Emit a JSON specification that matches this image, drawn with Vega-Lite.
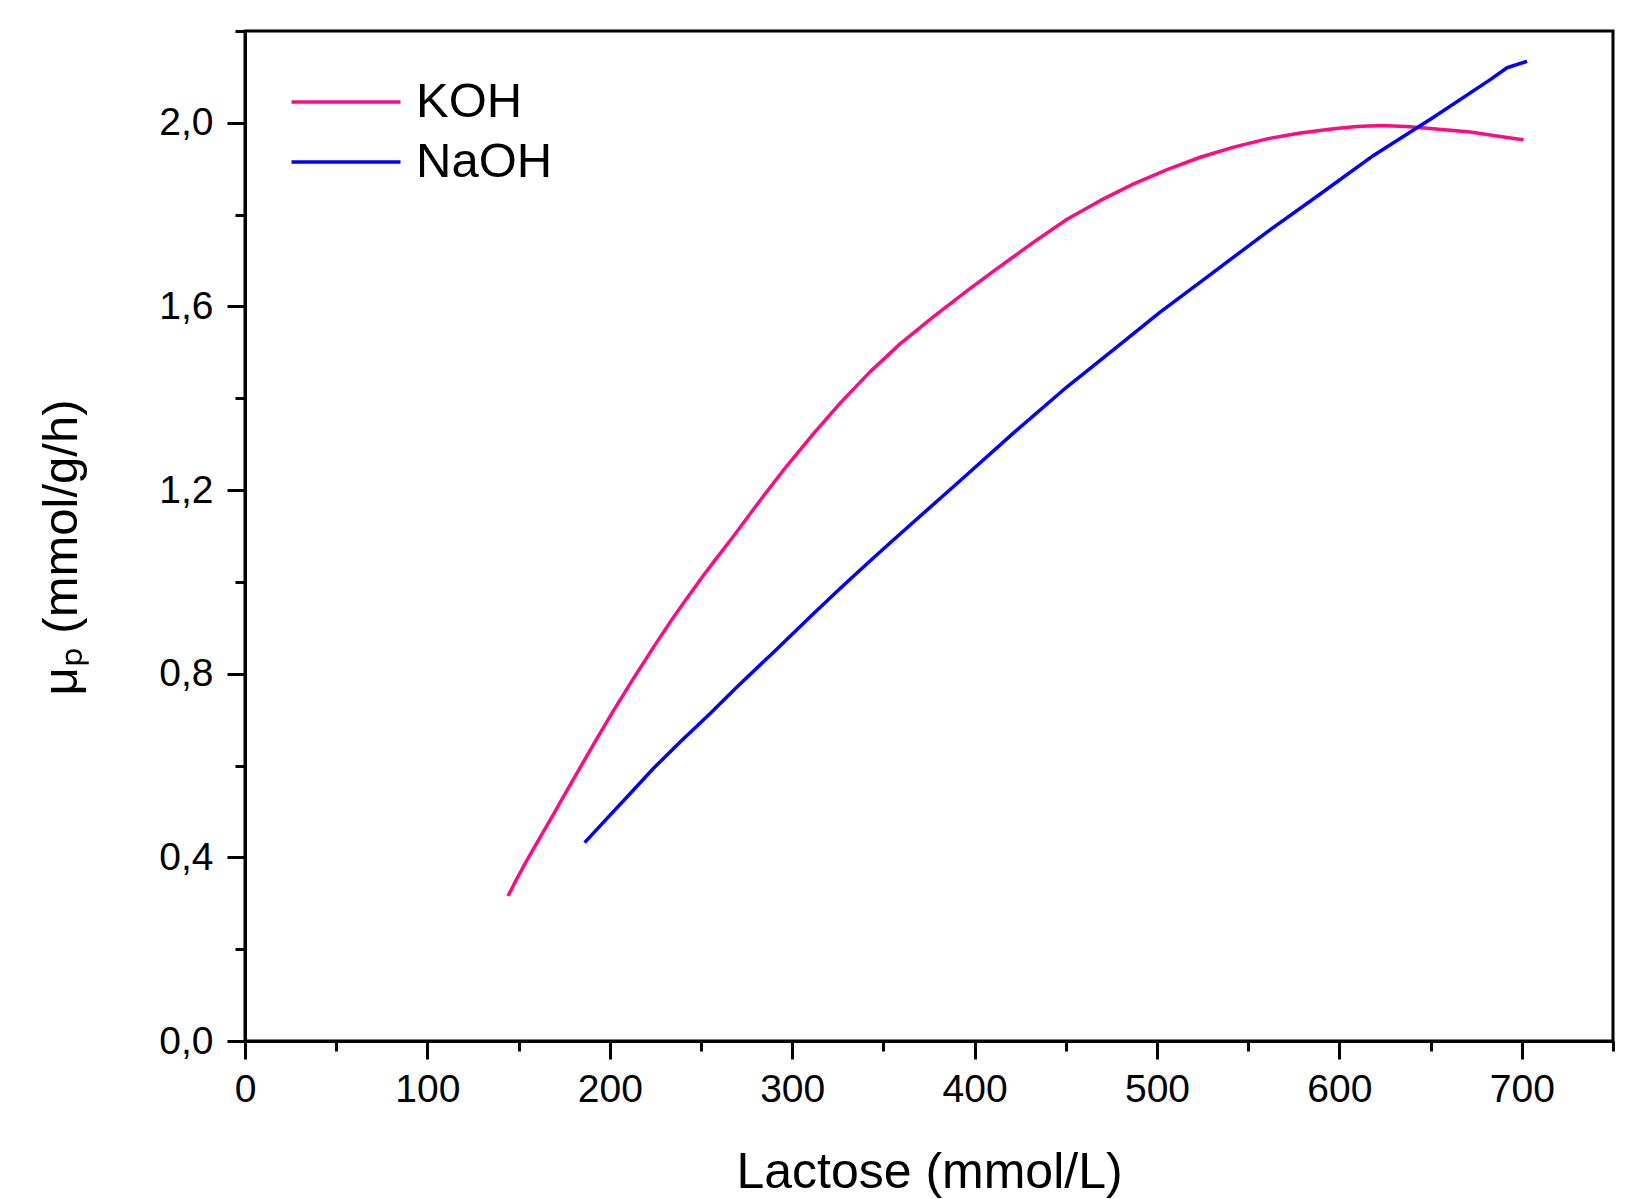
{
  "$schema": "https://vega.github.io/schema/vega-lite/v6.json",
  "autosize": "none",
  "padding": {"left": 245, "top": 31, "right": 13, "bottom": 158},
  "width": 1368,
  "height": 1010,
  "background": "white",
  "config": {
    "view": {"stroke": "black", "strokeWidth": 3},
    "font": "Liberation Sans",
    "axis": {"grid": false, "domainColor": "black", "domainWidth": 3, "tickColor": "black", "tickWidth": 3, "labelColor": "black", "titleColor": "black", "labelFont": "Liberation Sans", "titleFont": "Liberation Sans", "titleFontWeight": "normal", "labelFontSize": 39, "titleFontSize": 49, "labelFlush": false}
  },
  "data": {
    "values": [
      {"series": "KOH", "lactose": 144.2, "mu": 0.316},
      {"series": "KOH", "lactose": 149.1, "mu": 0.354},
      {"series": "KOH", "lactose": 154.6, "mu": 0.394},
      {"series": "KOH", "lactose": 161.0, "mu": 0.438},
      {"series": "KOH", "lactose": 168.3, "mu": 0.488},
      {"series": "KOH", "lactose": 175.3, "mu": 0.537},
      {"series": "KOH", "lactose": 183.8, "mu": 0.596},
      {"series": "KOH", "lactose": 193.0, "mu": 0.659},
      {"series": "KOH", "lactose": 202.1, "mu": 0.720},
      {"series": "KOH", "lactose": 213.0, "mu": 0.790},
      {"series": "KOH", "lactose": 224.0, "mu": 0.858},
      {"series": "KOH", "lactose": 233.2, "mu": 0.913},
      {"series": "KOH", "lactose": 242.0, "mu": 0.963},
      {"series": "KOH", "lactose": 250.0, "mu": 1.007},
      {"series": "KOH", "lactose": 257.8, "mu": 1.048},
      {"series": "KOH", "lactose": 267.9, "mu": 1.100},
      {"series": "KOH", "lactose": 282.5, "mu": 1.178},
      {"series": "KOH", "lactose": 297.1, "mu": 1.253},
      {"series": "KOH", "lactose": 311.7, "mu": 1.323},
      {"series": "KOH", "lactose": 326.4, "mu": 1.390},
      {"series": "KOH", "lactose": 342.8, "mu": 1.458},
      {"series": "KOH", "lactose": 359.3, "mu": 1.519},
      {"series": "KOH", "lactose": 377.5, "mu": 1.578},
      {"series": "KOH", "lactose": 395.8, "mu": 1.634},
      {"series": "KOH", "lactose": 410.4, "mu": 1.677},
      {"series": "KOH", "lactose": 424.0, "mu": 1.716},
      {"series": "KOH", "lactose": 432.4, "mu": 1.740},
      {"series": "KOH", "lactose": 450.7, "mu": 1.790},
      {"series": "KOH", "lactose": 469.0, "mu": 1.831},
      {"series": "KOH", "lactose": 487.2, "mu": 1.867},
      {"series": "KOH", "lactose": 505.5, "mu": 1.898},
      {"series": "KOH", "lactose": 523.7, "mu": 1.925},
      {"series": "KOH", "lactose": 542.0, "mu": 1.947},
      {"series": "KOH", "lactose": 560.3, "mu": 1.965},
      {"series": "KOH", "lactose": 578.5, "mu": 1.978},
      {"series": "KOH", "lactose": 596.8, "mu": 1.987},
      {"series": "KOH", "lactose": 609.6, "mu": 1.992},
      {"series": "KOH", "lactose": 622.4, "mu": 1.994},
      {"series": "KOH", "lactose": 637.0, "mu": 1.992},
      {"series": "KOH", "lactose": 651.6, "mu": 1.987},
      {"series": "KOH", "lactose": 671.8, "mu": 1.980},
      {"series": "KOH", "lactose": 691.9, "mu": 1.968},
      {"series": "KOH", "lactose": 701.0, "mu": 1.963},
      {"series": "NaOH", "lactose": 186.2, "mu": 0.432},
      {"series": "NaOH", "lactose": 198.5, "mu": 0.485},
      {"series": "NaOH", "lactose": 211.2, "mu": 0.539},
      {"series": "NaOH", "lactose": 224.0, "mu": 0.594},
      {"series": "NaOH", "lactose": 238.7, "mu": 0.652},
      {"series": "NaOH", "lactose": 254.9, "mu": 0.713},
      {"series": "NaOH", "lactose": 269.7, "mu": 0.771},
      {"series": "NaOH", "lactose": 289.8, "mu": 0.847},
      {"series": "NaOH", "lactose": 309.9, "mu": 0.924},
      {"series": "NaOH", "lactose": 326.4, "mu": 0.986},
      {"series": "NaOH", "lactose": 342.8, "mu": 1.046},
      {"series": "NaOH", "lactose": 355.6, "mu": 1.092},
      {"series": "NaOH", "lactose": 392.2, "mu": 1.221},
      {"series": "NaOH", "lactose": 422.3, "mu": 1.328},
      {"series": "NaOH", "lactose": 450.7, "mu": 1.425},
      {"series": "NaOH", "lactose": 478.1, "mu": 1.512},
      {"series": "NaOH", "lactose": 501.9, "mu": 1.588},
      {"series": "NaOH", "lactose": 527.4, "mu": 1.664},
      {"series": "NaOH", "lactose": 560.3, "mu": 1.762},
      {"series": "NaOH", "lactose": 589.5, "mu": 1.845},
      {"series": "NaOH", "lactose": 618.7, "mu": 1.929},
      {"series": "NaOH", "lactose": 651.6, "mu": 2.012},
      {"series": "NaOH", "lactose": 682.7, "mu": 2.094},
      {"series": "NaOH", "lactose": 691.9, "mu": 2.120},
      {"series": "NaOH", "lactose": 702.9, "mu": 2.134}
    ]
  },
  "layer": [
    {
      "mark": {"type": "point", "opacity": 0},
      "encoding": {
        "x": {"field": "lactose", "type": "quantitative", "scale": {"domain": [0, 750], "nice": false, "zero": false},
          "axis": {"orient": "bottom", "values": [50, 150, 250, 350, 450, 550, 650, 750], "tickSize": 10, "labels": false, "domain": false, "title": null}},
        "y": {"field": "mu", "type": "quantitative", "scale": {"domain": [0, 2.2], "nice": false, "zero": false},
          "axis": {"orient": "left", "values": [0.2, 0.6, 1.0, 1.4, 1.8, 2.2], "tickSize": 10, "labels": false, "domain": false, "title": null}}
      }
    },
    {
      "mark": {"type": "line", "strokeWidth": 3.5, "interpolate": "linear", "strokeJoin": "round"},
      "encoding": {
        "x": {"field": "lactose", "type": "quantitative", "scale": {"domain": [0, 750], "nice": false, "zero": false},
          "axis": {"orient": "bottom", "values": [0, 100, 200, 300, 400, 500, 600, 700], "tickSize": 18, "labelPadding": 11, "title": "Lactose (mmol/L)", "titlePadding": 38, "titleFontSize": 50}},
        "y": {"field": "mu", "type": "quantitative", "scale": {"domain": [0, 2.2], "nice": false, "zero": false},
          "axis": {"orient": "left", "values": [0, 0.4, 0.8, 1.2, 1.6, 2.0], "tickSize": 18, "labelPadding": 14, "labelExpr": "replace(format(datum.value, '.1f'), '.', ',')", "title": "μₚ (mmol/g/h)", "titlePadding": 72, "titleY": 516}},
        "color": {"field": "series", "type": "nominal",
          "scale": {"domain": ["KOH", "NaOH"], "range": ["#FF0A85", "#0000FF"]},
          "legend": {"title": null, "orient": "none", "legendX": 72, "legendY": 42, "padding": 0, "symbolType": "M-2,0H2", "symbolSize": 2970, "symbolStrokeWidth": 3.5, "labelFontSize": 49, "labelFont": "Liberation Sans", "labelColor": "black", "labelOffset": 41, "rowPadding": 6}}
      }
    }
  ],
  "resolve": {"axis": {"x": "independent", "y": "independent"}}
}
